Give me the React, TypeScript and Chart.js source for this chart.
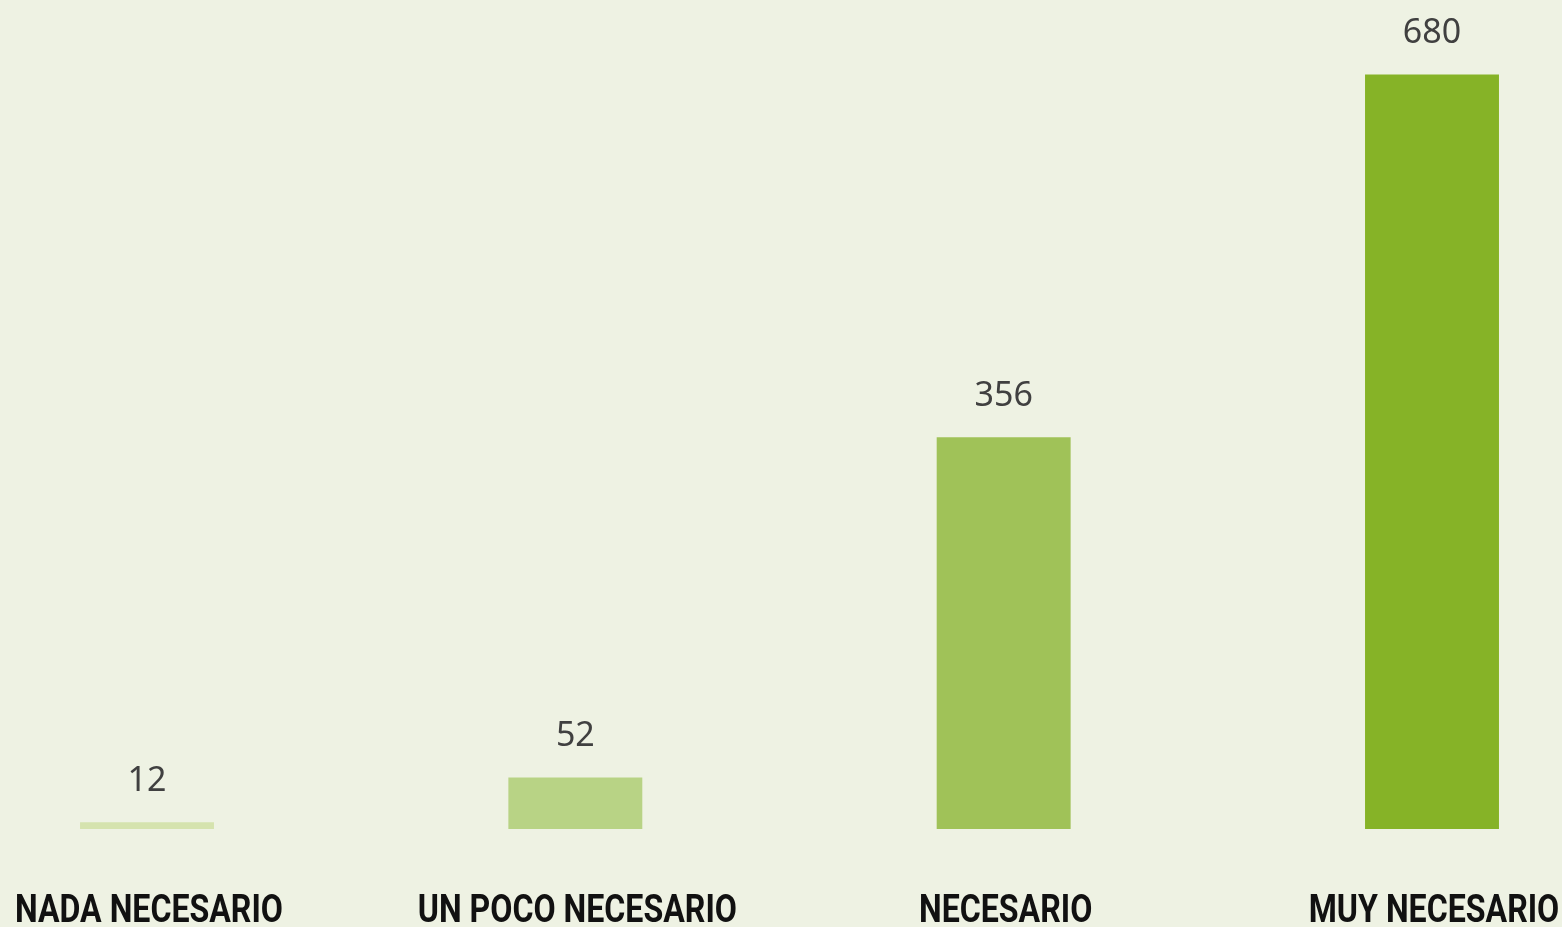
import React, { useEffect, useRef } from "react";
import { Chart, registerables } from "chart.js";

Chart.register(...registerables);

const categories = ["NADA NECESARIO", "UN POCO NECESARIO", "NECESARIO", "MUY NECESARIO"];
const values = [12, 52, 356, 680];
const barColors = ["#D5E3AE", "#B8D385", "#A0C258", "#86B327"];

const valueLabels = {
  id: "valueLabels",
  afterDatasetsDraw(chart: any) {
    const ctx = chart.ctx;
    const meta = chart.getDatasetMeta(0);
    ctx.save();
    ctx.font = "34px 'Noto Sans', 'Open Sans', sans-serif";
    ctx.fillStyle = "#404040";
    ctx.textAlign = "center";
    ctx.textBaseline = "alphabetic";
    meta.data.forEach((bar: any, i: number) => {
      ctx.fillText(String(values[i]), bar.x, bar.y - 31);
    });
    ctx.restore();
  },
};

// Category labels drawn at the x scale's tick positions, in a condensed bold style
const categoryLabels = {
  id: "categoryLabels",
  afterDraw(chart: any) {
    const ctx = chart.ctx;
    const xScale = chart.scales.x;
    ctx.save();
    ctx.font = "bold 38px Roboto, 'DejaVu Sans', sans-serif";
    ctx.fillStyle = "#111111";
    ctx.textAlign = "center";
    ctx.textBaseline = "alphabetic";
    const sx = 268 / ctx.measureText(categories[0]).width;
    categories.forEach((label, i) => {
      const x = xScale.getPixelForTick(i) + 2;
      ctx.save();
      ctx.translate(x, 922);
      ctx.scale(sx, 1);
      ctx.fillText(label, 0, 0);
      ctx.restore();
    });
    ctx.restore();
  },
};

const bgPlugin = {
  id: "bg",
  beforeDraw(chart: any) {
    const ctx = chart.ctx;
    ctx.save();
    ctx.fillStyle = "#EEF2E3";
    ctx.fillRect(0, 0, chart.width, chart.height);
    ctx.restore();
  },
};

export default function App() {
  const ref = useRef<HTMLCanvasElement>(null);
  useEffect(() => {
    document.body.style.margin = "0";
    document.body.style.overflow = "hidden";
    const chart = new Chart(ref.current!, {
      type: "bar",
      data: {
        labels: categories,
        datasets: [
          {
            data: values,
            backgroundColor: barColors,
            borderWidth: 0,
            clip: { left: false, right: false, top: false, bottom: 0 } as any,
            barPercentage: 1,
            categoryPercentage: 0.3127,
          },
        ],
      },
      options: {
        animation: false,
        responsive: false,
        devicePixelRatio: 1,
        layout: { padding: { left: 147, right: 130, top: 52, bottom: 98 } },
        plugins: { legend: { display: false }, tooltip: { enabled: false } },
        scales: {
          x: {
            offset: false,
            grid: { display: false, drawTicks: false },
            border: { display: false },
            ticks: { display: false },
          },
          y: { display: false, min: 6, max: 700 },
        },
      },
      plugins: [bgPlugin, valueLabels, categoryLabels],
    });
    return () => chart.destroy();
  }, []);
  return (
    <div style={{ width: 1562, height: 927 }}>
      <canvas ref={ref} width={1562} height={927} style={{ display: "block" }} />
    </div>
  );
}
